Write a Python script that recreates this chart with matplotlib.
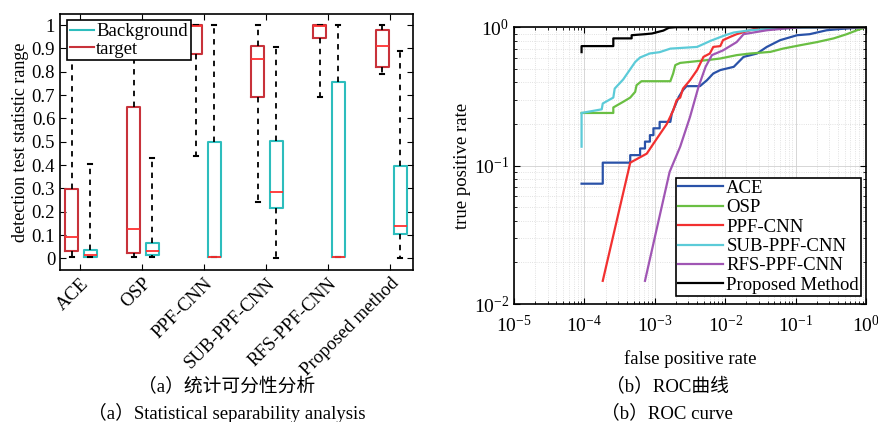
import numpy as np
import matplotlib.pyplot as plt

plt.rcParams['font.family'] = ['Liberation Serif', 'Noto Sans CJK SC']
plt.rcParams['mathtext.fontset'] = 'stix'

# ---- (a) box plot data ----
methods = ['ACE', 'OSP', 'PPF-CNN', 'SUB-PPF-CNN', 'RFS-PPF-CNN', 'Proposed method']
# target: whislo, q1, med, q3, whishi
tgt_lo = [0.005, 0.005, 0.44, 0.24, 0.69, 0.79]
tgt_q1 = [0.03, 0.022, 0.875, 0.69, 0.945, 0.82]
tgt_med = [0.09, 0.127, 0.995, 0.855, 0.998, 0.91]
tgt_q3 = [0.297, 0.65, 1.0, 0.91, 1.0, 0.98]
tgt_hi = [1.0, 1.0, 1.0, 1.0, 1.0, 1.0]
# background
bg_lo = [0.005, 0.005, 0.005, 0.0, 0.005, 0.0]
bg_q1 = [0.005, 0.015, 0.005, 0.215, 0.005, 0.105]
bg_med = [0.015, 0.03, 0.005, 0.285, 0.005, 0.14]
bg_q3 = [0.035, 0.065, 0.5, 0.505, 0.755, 0.395]
bg_hi = [0.405, 0.43, 1.0, 0.905, 1.0, 0.89]

# ---- (b) ROC data ----
ace_fpr = [9.1e-5, 1.82e-4, 1.82e-4, 4.47e-4, 4.47e-4, 6.17e-4, 6.17e-4, 7.24e-4, 7.24e-4, 8.51e-4,
           8.51e-4, 9.55e-4, 9.55e-4, 1.17e-3, 1.17e-3, 1.66e-3, 1.74e-3, 1.95e-3, 2.19e-3, 2.51e-3,
           2.82e-3, 4.37e-3, 5.5e-3, 6.76e-3, 8.5e-3, 1.32e-2, 1.82e-2, 2.82e-2, 3.89e-2, 6.03e-2,
           0.105, 0.158, 0.275, 0.427, 0.741, 1.0]
ace_tpr = [0.074, 0.074, 0.105, 0.105, 0.119, 0.119, 0.133, 0.133, 0.149, 0.149,
           0.166, 0.166, 0.186, 0.186, 0.207, 0.207, 0.238, 0.273, 0.314, 0.351,
           0.375, 0.375, 0.414, 0.463, 0.49, 0.517, 0.61, 0.645, 0.72, 0.806,
           0.875, 0.89, 0.95, 0.97, 0.99, 1.0]

osp_fpr = [9.1e-5, 2.57e-4, 2.57e-4, 3.55e-4, 4.47e-4, 5.25e-4, 5.5e-4, 6.46e-4, 1.66e-3, 1.82e-3,
           1.95e-3, 2.29e-3, 5.5e-3, 8.5e-3, 1.45e-2, 2.24e-2, 4.37e-2, 6.6e-2, 0.115, 0.2,
           0.347, 0.531, 0.741, 1.0]
osp_tpr = [0.24, 0.24, 0.263, 0.289, 0.31, 0.341, 0.381, 0.407, 0.407, 0.463,
           0.532, 0.552, 0.578, 0.594, 0.628, 0.645, 0.663, 0.70, 0.74, 0.78,
           0.83, 0.89, 0.95, 1.0]

ppf_fpr = [1.82e-4, 4.47e-4, 7.67e-4, 1.07e-3, 1.48e-3, 1.82e-3, 2.04e-3, 2.29e-3, 2.51e-3, 3.16e-3,
           3.98e-3, 4.9e-3, 6.03e-3, 6.76e-3, 8.5e-3, 9.3e-3, 1.17e-2, 1.45e-2, 2.24e-2, 3.09e-2, 1.0]
ppf_tpr = [0.0147, 0.105, 0.122, 0.157, 0.20, 0.25, 0.297, 0.31, 0.36, 0.414,
           0.49, 0.61, 0.645, 0.72, 0.73, 0.806, 0.85, 0.89, 0.95, 1.0, 1.0]

sub_fpr = [9.1e-5, 9.1e-5, 1.76e-4, 1.82e-4, 2.57e-4, 2.69e-4, 3.55e-4, 5.25e-4, 6.17e-4, 8.51e-4,
           1.17e-3, 1.66e-3, 3.98e-3, 6.3e-3, 1.0e-2, 1.32e-2, 2.24e-2, 3.89e-2, 0.105, 1.0]
sub_tpr = [0.137, 0.24, 0.255, 0.281, 0.31, 0.36, 0.419, 0.56, 0.604, 0.646,
           0.66, 0.70, 0.72, 0.80, 0.875, 0.915, 0.95, 0.97, 0.99, 1.0]

rfs_fpr = [7.24e-4, 1.62e-3, 2.29e-3, 3.16e-3, 4.17e-3, 5.25e-3, 6.46e-3, 9.3e-3, 1.45e-2,
           1.82e-2, 3.89e-2, 9.3e-2, 0.126, 1.0]
rfs_tpr = [0.0147, 0.09, 0.137, 0.225, 0.371, 0.517, 0.628, 0.68, 0.78,
           0.89, 0.95, 0.99, 1.0, 1.0]

prop_fpr = [9.1e-5, 9.1e-5, 2.57e-4, 2.57e-4, 4.68e-4, 4.68e-4, 7.24e-4, 9.1e-4, 1.32e-3, 1.58e-3, 2.0e-3, 1.0]
prop_tpr = [0.66, 0.73, 0.73, 0.83, 0.83, 0.875, 0.89, 0.90, 0.945, 0.99, 1.0, 1.0]

roc_names = ['ACE', 'OSP', 'PPF-CNN', 'SUB-PPF-CNN', 'RFS-PPF-CNN', 'Proposed Method']
roc_colors = ['#2a52a8', '#6abf43', '#f23030', '#5ccbd8', '#a056b4', '#000000']

tgt_color = '#c8323a'
bg_color = '#2dbdbd'
med_color = '#ff3030'

fig = plt.figure(figsize=(8.79, 4.22), dpi=100)

# ---------- left: box plot ----------
ax1 = fig.add_axes([0.0683, 0.36, 0.4016, 0.6066])
pos = np.arange(1, len(methods) + 1)

def make_stats(lo, q1, med, q3, hi):
    return [dict(whislo=a, q1=b, med=c, q3=d, whishi=e, fliers=[])
            for a, b, c, d, e in zip(lo, q1, med, q3, hi)]

for stats, off, col in [(make_stats(tgt_lo, tgt_q1, tgt_med, tgt_q3, tgt_hi), -0.13, tgt_color),
                        (make_stats(bg_lo, bg_q1, bg_med, bg_q3, bg_hi), 0.165, bg_color)]:
    ax1.bxp(stats, positions=pos + off, widths=0.21, showfliers=False,
            boxprops=dict(color=col, linewidth=1.5),
            medianprops=dict(color=med_color, linewidth=1.3),
            whiskerprops=dict(color='black', linestyle=(0, (3, 3)), linewidth=1.3),
            capprops=dict(color='black', linewidth=1.5), capwidths=0.07,
            manage_ticks=False)

ax1.set_xlim(0.68, 6.37)
ax1.set_ylim(-0.05, 1.047)
ax1.set_xticks(pos)
ax1.set_xticklabels(methods, rotation=45, ha='right', rotation_mode='anchor', fontsize=13.5)
ax1.set_yticks(np.arange(0, 1.01, 0.1))
ax1.set_yticklabels(['0', '0.1', '0.2', '0.3', '0.4', '0.5', '0.6', '0.7', '0.8', '0.9', '1'])
ax1.tick_params(axis='y', labelsize=13.5)
ax1.tick_params(direction='in', top=True, right=True, length=4)
ax1.set_ylabel('detection test statistic range', fontsize=13, labelpad=2)
for s in ax1.spines.values():
    s.set_linewidth(1.2)
h1, = ax1.plot([], [], color=bg_color, lw=1.5, label='Background')
h2, = ax1.plot([], [], color=tgt_color, lw=1.5, label='target')
leg1 = ax1.legend(handles=[h1, h2], loc='upper left', bbox_to_anchor=(0.02, 0.975),
                  fontsize=13.5, frameon=True, fancybox=False, edgecolor='black',
                  framealpha=1, handlelength=1.3, handletextpad=0.1, borderpad=0.15,
                  labelspacing=0.0, borderaxespad=0)
leg1.get_frame().set_linewidth(1.2)

# ---------- right: ROC ----------
ax2 = fig.add_axes([0.5848, 0.2796, 0.4005, 0.656])
curves = [(ace_fpr, ace_tpr), (osp_fpr, osp_tpr), (ppf_fpr, ppf_tpr),
          (sub_fpr, sub_tpr), (rfs_fpr, rfs_tpr), (prop_fpr, prop_tpr)]
for (f, t), name, c in zip(curves, roc_names, roc_colors):
    ax2.plot(f, t, color=c, lw=1.6, label=name)
ax2.set_xscale('log')
ax2.set_yscale('log')
ax2.set_xlim(1e-5, 1)
ax2.set_ylim(1e-2, 1)
ax2.grid(True, which='major', color='#d0d0d0', linestyle='-', linewidth=0.6)
ax2.grid(True, which='minor', color='#d8d8d8', linestyle=':', linewidth=0.6)
ax2.tick_params(which='both', direction='in', top=True, right=True)
ax2.tick_params(which='major', length=4, labelsize=14)
ax2.tick_params(axis='x', which='major', pad=8)
ax2.tick_params(which='minor', length=2)
ax2.set_xlabel('false positive rate', fontsize=13.5, labelpad=10)
ax2.set_ylabel('true positive rate', fontsize=13.5, labelpad=2)
for s in ax2.spines.values():
    s.set_linewidth(1.2)
leg2 = ax2.legend(loc='lower right', bbox_to_anchor=(0.985, 0.03), fontsize=13.5,
                  frameon=True, fancybox=False, edgecolor='black', framealpha=1,
                  handlelength=2.4, handletextpad=0.2, borderpad=0.1,
                  labelspacing=0.12, borderaxespad=0)
leg2.get_frame().set_linewidth(1.2)

# ---------- captions ----------
fig.text(0.258, 1 - 387 / 422, '（a）统计可分性分析', ha='center', va='center', fontsize=13.5)
fig.text(0.258, 1 - 413 / 422, '（a）Statistical separability analysis', ha='center', va='center', fontsize=13.5)
fig.text(0.759, 1 - 387 / 422, '（b）ROC曲线', ha='center', va='center', fontsize=13.5)
fig.text(0.759, 1 - 413 / 422, '（b）ROC curve', ha='center', va='center', fontsize=13.5)

fig.savefig('out.png', dpi=100)
